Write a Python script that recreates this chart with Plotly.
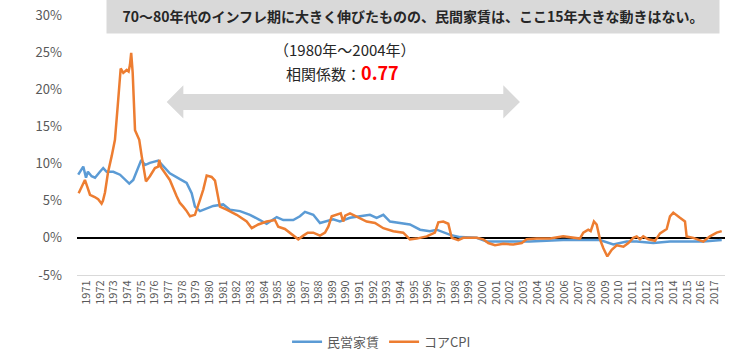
import plotly.graph_objects as go

# ---- data ----
rent_t = [1970.39, 1970.76, 1970.96, 1971.1, 1971.37, 1971.62, 1971.98, 1972.22, 1972.47, 1972.96,
          1973.45, 1973.81, 1974.13, 1974.42, 1974.67, 1975.01, 1975.28, 1975.64, 1976.25, 1976.62,
          1977.1, 1977.84, 1978.33, 1978.7, 1978.94, 1979.31, 1979.8, 1980.28, 1981.01, 1981.5,
          1982.24, 1982.97, 1983.7, 1984.19, 1984.93, 1985.41, 1986.14, 1986.63, 1987.0, 1987.61,
          1988.1, 1988.59, 1989.07, 1989.56, 1990.3, 1991.03, 1991.76, 1992.25, 1992.74, 1993.23,
          1993.96, 1994.69, 1995.43, 1996.16, 1996.65, 1996.9, 1997.64, 1998.37, 1999.58, 2000.31,
          2002.5, 2003.48, 2005.9, 2007.14, 2007.88, 2008.61, 2009.59, 2010.57, 2011.3, 2012.52,
          2013.74, 2016.18, 2017.53]
rent_v = [8.5, 9.6, 8.1, 8.9, 8.3, 8.1, 8.9, 9.4, 8.9, 8.9,
          8.5, 7.8, 7.3, 7.8, 8.9, 10.5, 9.8, 10.1, 10.4, 9.6,
          8.7, 7.9, 7.4, 6.0, 4.2, 3.6, 4.0, 4.3, 4.5, 3.8,
          3.6, 3.1, 2.4, 1.9, 2.8, 2.4, 2.4, 2.9, 3.5, 3.1,
          2.0, 2.2, 2.5, 2.2, 2.7, 2.9, 3.1, 2.7, 3.1, 2.2,
          2.0, 1.8, 1.1, 0.9, 1.1, 0.9, 0.4, 0.1, 0.0, -0.5,
          -0.5, -0.5, -0.3, -0.3, -0.2, -0.3, -0.9, -0.5, -0.5, -0.7,
          -0.5, -0.5, -0.3]

cpi_t = [1970.42, 1970.88, 1971.05, 1971.25, 1971.6, 1971.85, 1972.1, 1972.2, 1972.35, 1972.57,
         1972.84, 1973.08, 1973.28, 1973.5, 1973.69, 1973.94, 1974.08, 1974.18, 1974.27, 1974.38,
         1974.55, 1974.86, 1975.04, 1975.35, 1975.64, 1976.01, 1976.25, 1976.33, 1976.45, 1976.74,
         1977.1, 1977.6, 1977.84, 1978.08, 1978.3, 1978.58, 1978.94, 1979.31, 1979.55, 1979.8,
         1980.16, 1980.41, 1980.65, 1980.77, 1981.26, 1982.0, 1982.73, 1983.1, 1983.58, 1984.19,
         1984.8, 1985.04, 1985.53, 1986.14, 1986.51, 1986.88, 1987.2, 1987.61, 1988.1, 1988.47,
         1988.71, 1988.96, 1989.32, 1989.62, 1989.8, 1989.95, 1990.3, 1990.9, 1991.52, 1992.13,
         1992.74, 1993.47, 1994.2, 1994.69, 1995.18, 1995.92, 1996.52, 1996.77, 1997.13, 1997.5,
         1997.75, 1998.23, 1998.6, 1999.58, 2000.06, 2000.43, 2000.92, 2001.53, 2002.26, 2002.88,
         2003.24, 2003.97, 2004.95, 2005.92, 2006.41, 2007.14, 2007.39, 2007.75, 2007.93, 2008.17,
         2008.37, 2008.61, 2008.86, 2009.15, 2009.47, 2009.84, 2010.33, 2010.69, 2011.05, 2011.3,
         2011.54, 2011.78, 2012.15, 2012.64, 2013.01, 2013.5, 2013.74, 2013.98, 2014.47, 2014.84,
         2014.96, 2015.45, 2016.18, 2016.67, 2017.16, 2017.53]
cpi_v = [6.0, 7.8, 6.9, 5.8, 5.5, 5.2, 4.6, 5.0, 6.1, 8.8,
         11.0, 13.2, 17.7, 22.8, 22.2, 22.6, 22.4, 23.3, 24.9, 22.2,
         14.5, 13.2, 11.0, 7.6, 8.3, 9.4, 9.6, 10.5, 9.5, 8.7,
         7.8, 5.6, 4.7, 4.2, 3.7, 2.9, 3.1, 5.1, 6.5, 8.4,
         8.2, 7.7, 5.1, 4.2, 3.8, 3.1, 2.2, 1.3, 1.8, 2.2,
         2.4, 1.5, 1.2, 0.4, -0.2, 0.3, 0.7, 0.7, 0.3, 0.7,
         1.5, 2.9, 3.1, 3.3, 2.2, 3.0, 3.3, 2.8, 2.2, 2.0,
         1.3, 0.9, 0.7, -0.2, -0.1, 0.2, 0.7, 2.1, 2.2, 1.9,
         0.0, -0.3, 0.0, 0.0, -0.2, -0.7, -1.0, -0.8, -0.9, -0.7,
         -0.2, -0.1, -0.1, 0.2, 0.1, -0.1, 0.7, 1.1, 0.9, 2.2,
         1.8, -0.2, -1.4, -2.5, -1.6, -1.0, -1.2, -0.7, 0.0, 0.2,
         -0.2, 0.2, -0.2, -0.4, 0.6, 1.2, 2.9, 3.4, 2.7, 2.2,
         0.2, 0.0, -0.5, 0.2, 0.7, 0.9]

years = list(range(1971, 2018))
year_labels = [str(y) for y in years]
y_ticks = [-5, 0, 5, 10, 15, 20, 25, 30]

FONT = "Noto Sans CJK JP"
BLUE = "#5B9BD5"
ORANGE = "#ED7D31"

fig = go.Figure()
fig.add_trace(go.Scatter(x=rent_t, y=rent_v, mode="lines", name="民営家賃",
                         line=dict(color=BLUE, width=2.5)))
fig.add_trace(go.Scatter(x=cpi_t, y=cpi_v, mode="lines", name="コアCPI",
                         line=dict(color=ORANGE, width=2.5)))

# double-headed grey arrow
xl, xr, hl = 1976.87, 2002.75, 1.22
yc, sh, hh = 18.3, 1.08, 2.24
path = (f"M {xl},{yc} L {xl+hl},{yc+hh} L {xl+hl},{yc+sh} L {xr-hl},{yc+sh} "
        f"L {xr-hl},{yc+hh} L {xr},{yc} L {xr-hl},{yc-hh} L {xr-hl},{yc-sh} "
        f"L {xl+hl},{yc-sh} L {xl+hl},{yc-hh} Z")
fig.add_shape(type="path", path=path, xref="x", yref="y",
              fillcolor="#d9d9d9", line=dict(width=0), layer="below")

fig.add_annotation(text="（1980年～2004年）", x=1989.93, y=25.3, xref="x", yref="y",
                   xanchor="center", yanchor="middle", showarrow=False,
                   font=dict(family=FONT, size=15, color="#262626"))
fig.add_annotation(text="相関係数：<b><span style='color:#ff0000;font-size:18px'>0.77</span></b>",
                   x=1989.75, y=22.3, xref="x", yref="y", xanchor="center", yanchor="middle",
                   showarrow=False, font=dict(family=FONT, size=15, color="#262626"))

fig.add_annotation(text="<b>70～80年代のインフレ期に大きく伸びたものの、民間家賃は、ここ15年大きな動きはない。</b>",
                   x=0.5185, y=0.996, xref="paper", yref="paper", xanchor="center", yanchor="middle",
                   showarrow=False, width=610, height=32, bgcolor="#d9d9d9",
                   font=dict(family=FONT, size=14, color="#262626"))

fig.update_layout(
    width=730, height=356,
    margin=dict(l=77, r=5, t=15, b=81, autoexpand=False),
    paper_bgcolor="white", plot_bgcolor="white",
    font=dict(family=FONT, color="#595959"),
    showlegend=True,
    legend=dict(orientation="h", x=0.47, xanchor="center", y=0.04, yanchor="middle",
                yref="container",
                font=dict(family=FONT, size=13, color="#595959"), itemwidth=30,
                bgcolor="rgba(0,0,0,0)"),
    xaxis=dict(range=[1970.30, 2017.77], tickmode="array", tickvals=years, ticktext=year_labels,
               tickangle=-90, tickfont=dict(size=11, color="#595959"), showgrid=False,
               zeroline=False, showline=True, linecolor="#d9d9d9", linewidth=1, ticks="",
               automargin=False),
    yaxis=dict(range=[-5, 30], tickmode="array", tickvals=y_ticks,
               ticktext=[f"{v}%" for v in y_ticks], tickfont=dict(size=13, color="#595959"),
               showgrid=False, zeroline=True, zerolinecolor="#000000", zerolinewidth=1.5,
               showline=False, ticks="", ticklabelstandoff=14, automargin=False),
)

fig.write_html("out.html", config={"displayModeBar": False},
               post_script="document.body.style.margin='0';")
